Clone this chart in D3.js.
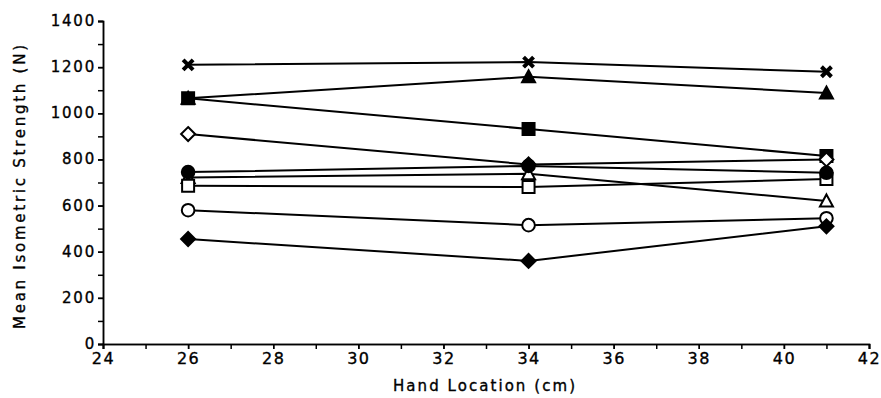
<!DOCTYPE html>
<html>
<head>
<meta charset="utf-8">
<title>Mean Isometric Strength vs Hand Location</title>
<script src="https://cdn.jsdelivr.net/npm/d3@7"></script>
<style>
  body { margin: 0; background: #fff; }
  text { font-family: "DejaVu Sans", sans-serif; fill: #000; stroke: #000; stroke-width: 0.35px; }
</style>
</head>
<body>
<script>
// hand locations (cm)
var locations = [26, 34, 41];

// one array of mean strengths (N) per marker
var crossVals      = [1210, 1222, 1180];
var filledTriVals  = [1065, 1158, 1088];
var filledSqVals   = [1065, 932, 815];
var openDiaVals    = [910, 778, 800];
var openTriVals    = [722, 738, 620];
var openSqVals     = [686, 680, 715];
var filledCirVals  = [745, 772, 742];
var openCirVals    = [580, 515, 545];
var filledDiaVals  = [455, 360, 510];

var xTicks = [24, 26, 28, 30, 32, 34, 36, 38, 40, 42];
var yTicks = [0, 200, 400, 600, 800, 1000, 1200, 1400];

var series = [
  {vals: crossVals,     shape: "cross",   fill: true},
  {vals: filledTriVals, shape: "tri",     fill: true},
  {vals: filledSqVals,  shape: "square",  fill: true},
  {vals: openDiaVals,   shape: "diamond", fill: false},
  {vals: openTriVals,   shape: "tri",     fill: false},
  {vals: openSqVals,    shape: "square",  fill: false},
  {vals: filledCirVals, shape: "circle",  fill: true},
  {vals: openCirVals,   shape: "circle",  fill: false},
  {vals: filledDiaVals, shape: "diamond", fill: true}
];

var W = 881, H = 398;
var svg = d3.select("body").append("svg")
  .attr("width", W)
  .attr("height", H);

var x = d3.scaleLinear().domain([24, 42]).range([103, 869]);
var y = d3.scaleLinear().domain([0, 1400]).range([344, 21]);

// y axis with minor ticks every 100
var yAxis = svg.append("g").attr("transform", "translate(103,0)");
yAxis.call(d3.axisLeft(y).tickValues(d3.range(0, 1401, 100)).tickSize(5).tickFormat(""));
yAxis.append("g").call(d3.axisLeft(y).tickValues(yTicks).tickSize(5).tickPadding(2).tickFormat(d3.format("d")));
yAxis.selectAll("path, line").attr("stroke", "#000").attr("stroke-width", 1.5);
yAxis.selectAll("text").style("font-size", "15px").style("letter-spacing", "1.8px").attr("dy", "0.3em");

// x axis with minor ticks every 1
var xAxis = svg.append("g").attr("transform", "translate(0,344)");
xAxis.call(d3.axisBottom(x).tickValues(d3.range(24, 43, 1)).tickSize(5).tickFormat(""));
xAxis.append("g").call(d3.axisBottom(x).tickValues(xTicks).tickSize(5).tickPadding(4).tickFormat(d3.format("d")));
xAxis.selectAll("path, line").attr("stroke", "#000").attr("stroke-width", 1.5);
xAxis.selectAll("text").style("font-size", "16px").style("letter-spacing", "1.5px");

// axis titles
svg.append("text")
  .attr("x", 484).attr("y", 391)
  .attr("text-anchor", "middle")
  .attr("textLength", 182)
  .attr("lengthAdjust", "spacing")
  .style("font-size", "15px")
  .text("Hand Location (cm)");

svg.append("text")
  .attr("transform", "translate(25,187) rotate(-90)")
  .attr("text-anchor", "middle")
  .attr("textLength", 284)
  .attr("lengthAdjust", "spacing")
  .style("font-size", "15px")
  .text("Mean Isometric Strength (N)");

var line = d3.line()
  .x(function(d, i) { return x(locations[i]); })
  .y(function(d) { return y(d); });

var plot = svg.append("g");

series.forEach(function(s) {
  plot.append("path")
    .attr("d", line(s.vals))
    .attr("fill", "none")
    .attr("stroke", "#000")
    .attr("stroke-width", 2);
});

// marker shapes
function markerPath(shape) {
  if (shape == "cross") return "M-5,-5L5,5M5,-5L-5,5";
  if (shape == "tri") return "M0,-6.5L6.5,5.5L-6.5,5.5Z";
  if (shape == "square") return "M-6,-6H6V6H-6Z";
  if (shape == "diamond") return "M0,-7L7,0L0,7L-7,0Z";
  return d3.symbol().type(d3.symbolCircle).size(125)();
}

series.forEach(function(s) {
  s.vals.forEach(function(v, i) {
    var g = plot.append("path")
      .attr("transform", "translate(" + x(locations[i]) + "," + y(v) + ")")
      .attr("d", markerPath(s.shape))
      .attr("stroke", "#000");
    if (s.shape == "cross") {
      g.attr("fill", "none").attr("stroke-width", 4);
    } else {
      g.attr("fill", s.fill ? "#000" : "#fff").attr("stroke-width", 2);
    }
  });
});
</script>
</body>
</html>
